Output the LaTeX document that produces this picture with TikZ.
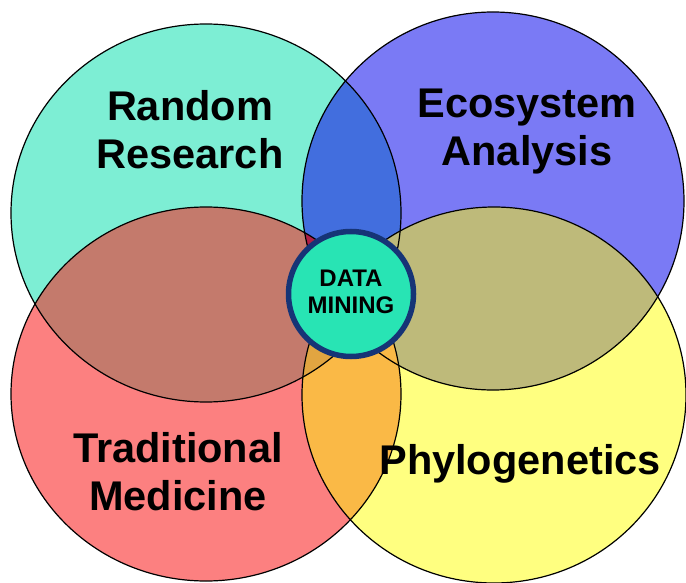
\documentclass[tikz,border=0pt]{standalone}
\usepackage{fontspec}
\setmainfont{Liberation Sans}
\definecolor{cTeal}{RGB}{125,238,212}
\definecolor{cBlue}{RGB}{122,122,245}
\definecolor{cRed}{RGB}{252,128,128}
\definecolor{cYellow}{RGB}{255,255,128}
\definecolor{cTLTR}{RGB}{66,110,222}
\definecolor{cTLBL}{RGB}{196,122,108}
\definecolor{cTRBR}{RGB}{190,186,122}
\definecolor{cBLBR}{RGB}{250,185,70}
\definecolor{cTriA}{RGB}{175,30,70}
\definecolor{cTriB}{RGB}{225,165,65}
\definecolor{dmFill}{RGB}{40,228,180}
\definecolor{dmRing}{RGB}{22,52,118}
\begin{document}
\begin{tikzpicture}[x=1bp,y=-1bp,
  bigtext/.style={font=\fontsize{41.5bp}{48bp}\selectfont\bfseries, align=center, inner sep=0pt, text=black},
  dmtextstyle/.style={font=\fontsize{24bp}{27bp}\selectfont\bfseries, align=center, inner sep=0pt, text=black},
  outline/.style={draw=black, line width=1.2bp}]
\useasboundingbox (0,0) rectangle (686,583);
\fill[white] (0,0) rectangle (686,583);
\coordinate (tl) at (206,213);
\coordinate (tr) at (493,201);
\coordinate (bl) at (206,394);
\coordinate (br) at (494,395);
% base fills
\fill[cTeal] (tl) ellipse [x radius=195bp, y radius=189bp];
\fill[cBlue] (tr) ellipse [x radius=191bp, y radius=189bp];
\fill[cRed] (bl) ellipse [x radius=195bp, y radius=187bp];
\fill[cYellow] (br) ellipse [x radius=192bp, y radius=188bp];
% TL & BL
\begin{scope}
  \clip (tl) ellipse [x radius=195bp, y radius=189bp];
  \fill[cTLBL] (bl) ellipse [x radius=195bp, y radius=187bp];
\end{scope}
% TL & TR
\begin{scope}
  \clip (tl) ellipse [x radius=195bp, y radius=189bp];
  \fill[cTLTR] (tr) ellipse [x radius=191bp, y radius=189bp];
  \clip (tr) ellipse [x radius=191bp, y radius=189bp];
  \fill[cTriA] (bl) ellipse [x radius=195bp, y radius=187bp];
\end{scope}
% TR & BR
\begin{scope}
  \clip (tr) ellipse [x radius=191bp, y radius=189bp];
  \fill[cTRBR] (br) ellipse [x radius=192bp, y radius=188bp];
\end{scope}
% BL & BR
\begin{scope}
  \clip (bl) ellipse [x radius=195bp, y radius=187bp];
  \fill[cBLBR] (br) ellipse [x radius=192bp, y radius=188bp];
  \clip (tl) ellipse [x radius=195bp, y radius=189bp];
  \fill[cTriB] (br) ellipse [x radius=192bp, y radius=188bp];
\end{scope}
% outlines
\draw[outline] (tl) ellipse [x radius=195bp, y radius=189bp];
\draw[outline] (tr) ellipse [x radius=191bp, y radius=189bp];
\draw[outline] (bl) ellipse [x radius=195bp, y radius=187bp];
\draw[outline] (br) ellipse [x radius=192bp, y radius=188bp];
% labels
\node[bigtext] (random) at (190,129.5) {Random\\Research};
\node[bigtext] (eco) at (527,131.5) {Ecosystem\\Analysis};
\node[bigtext] (trad) at (178,472) {Traditional\\Medicine};
\node[bigtext] (phylo) at (520,464) {Phylogenetics};
% centre
\node[circle, fill=dmFill, draw=dmRing, line width=5.5bp, minimum size=125bp, inner sep=0pt] (dm) at (351,294) {};
\node[dmtextstyle] (dmtext) at (351,291.5) {DATA\\MINING};
\end{tikzpicture}
\end{document}
